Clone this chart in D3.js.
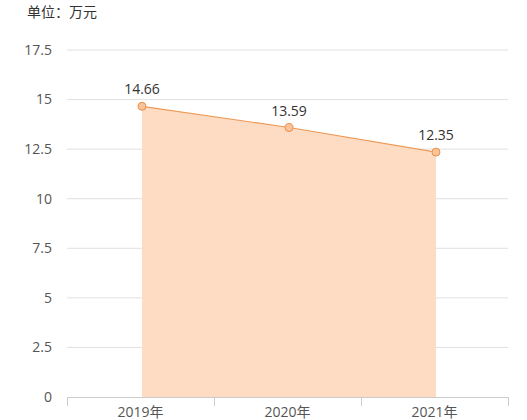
<!DOCTYPE html>
<html>
<head>
<meta charset="utf-8">
<script src="https://cdn.jsdelivr.net/npm/d3@7"></script>
<style>
  body { margin: 0; background: #fff; }
  svg { display: block; font-family: "Open Sans", "Noto Sans CJK SC", sans-serif; }
</style>
</head>
<body>
<svg id="chart" width="527" height="420"></svg>
<script>
'use strict';

// data
const years = ['2019年', '2020年', '2021年'];
const values = [14.66, 13.59, 12.35];
const yTicks = [0, 2.5, 5, 7.5, 10, 12.5, 15, 17.5];
const unitLabel = '单位：万元';

const svg = d3.select('#chart');
const margin = {left: 67, right: 19, top: 50, bottom: 23};
const W = 527, H = 420;

const x = d3.scaleBand()
	.domain(years)
	.range([margin.left, W - margin.right]);

const y = d3.scaleLinear()
	.domain([0, 17.5])
	.range([H - margin.bottom, margin.top]);

const cx = d => x(d) + x.bandwidth() / 2 + 1.5;

// grid
svg.append('g')
	.selectAll('line')
	.data(yTicks.filter(t => t > 0))
	.join('line')
	.attr('x1', margin.left)
	.attr('x2', W - margin.right)
	.attr('y1', d => y(d))
	.attr('y2', d => y(d))
	.attr('stroke', '#e0e0e0')
	.attr('stroke-width', 1);

// area
const pts = years.map((yr, i) => ({yr, v: values[i]}));

svg.append('path')
	.datum(pts)
	.attr('fill', '#fddcc3')
	.attr('d', d3.area()
		.x(d => cx(d.yr))
		.y0(y(0))
		.y1(d => y(d.v)));

svg.append('path')
	.datum(pts)
	.attr('fill', 'none')
	.attr('stroke', '#ee9a55')
	.attr('stroke-width', 1.2)
	.attr('d', d3.line()
		.x(d => cx(d.yr))
		.y(d => y(d.v)));

// y axis labels
svg.append('g')
	.selectAll('text')
	.data(yTicks)
	.join('text')
	.attr('x', 52)
	.attr('y', d => y(d))
	.attr('dy', '0.35em')
	.attr('text-anchor', 'end')
	.attr('fill', '#555')
	.attr('font-size', 14)
	.text(d => d);

// x axis
const xAxis = svg.append('g')
	.attr('transform', `translate(0,${y(0)})`)
	.call(d3.axisBottom(x).tickSize(0).tickPadding(10));
xAxis.select('.domain').attr('stroke', '#ccc');
xAxis.selectAll('text')
	.attr('fill', '#555')
	.attr('font-size', 14)
	.attr('font-family', '"Open Sans", "Noto Sans CJK SC", sans-serif');

// band boundary ticks
svg.append('g')
	.selectAll('line')
	.data(years.map(d => x(d)).concat([x.range()[1]]))
	.join('line')
	.attr('x1', d => d + 0.5)
	.attr('x2', d => d + 0.5)
	.attr('y1', y(0))
	.attr('y2', y(0) + 9)
	.attr('stroke', '#ccc');

// points
svg.append('g')
	.selectAll('circle')
	.data(pts)
	.join('circle')
	.attr('cx', d => cx(d.yr))
	.attr('cy', d => y(d.v))
	.attr('r', 4)
	.attr('fill', '#fbc39a')
	.attr('stroke', '#e8914a')
	.attr('stroke-width', 1);

// value labels
svg.append('g')
	.selectAll('text')
	.data(pts)
	.join('text')
	.attr('x', d => cx(d.yr))
	.attr('y', d => y(d.v) - 12)
	.attr('text-anchor', 'middle')
	.attr('fill', '#333')
	.attr('font-size', 14)
	.text(d => d.v.toFixed(2));

// unit
svg.append('text')
	.attr('x', 27)
	.attr('y', 17)
	.attr('fill', '#333')
	.attr('font-size', 14)
	.attr('font-family', '"Noto Sans CJK SC", sans-serif')
	.text(unitLabel);
</script>
</body>
</html>
